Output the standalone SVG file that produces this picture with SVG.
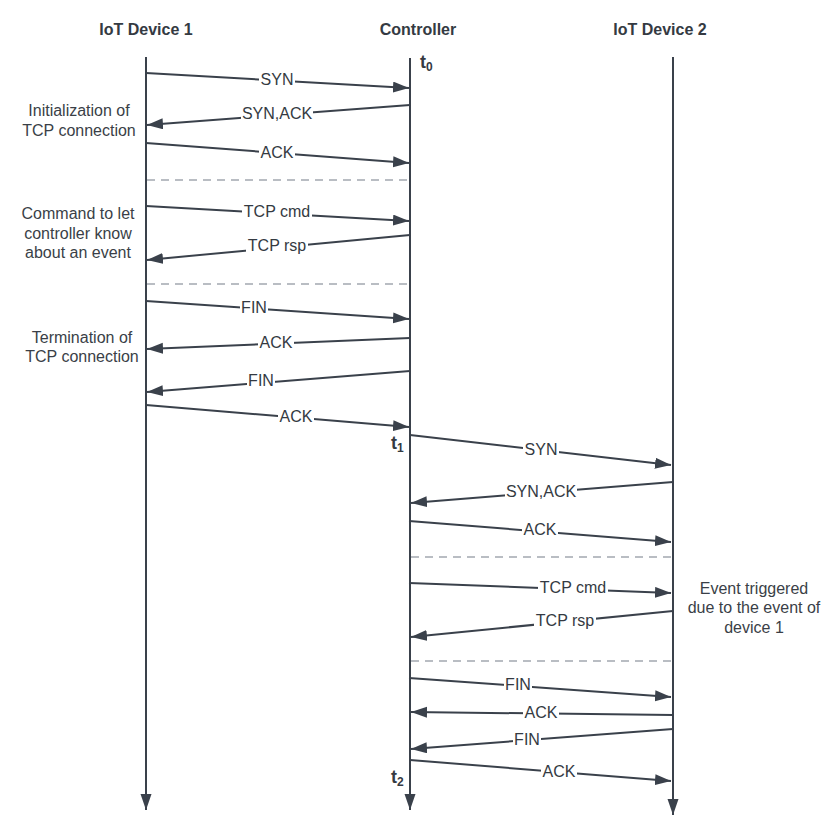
<svg xmlns="http://www.w3.org/2000/svg" width="830" height="818" viewBox="0 0 830 818">
<style>
.hdr{font-family:"Liberation Sans",Arial,sans-serif;font-size:16px;font-weight:bold;fill:#343a42;text-anchor:middle}
.note{font-family:"Liberation Sans",Arial,sans-serif;font-size:16px;fill:#3a3f47;text-anchor:middle}
.lbl{font-family:"Liberation Sans",Arial,sans-serif;font-size:16px;fill:#343a42;text-anchor:middle}
.bg{fill:#fff}
.tl{font-family:"Liberation Sans",Arial,sans-serif;font-size:18px;font-weight:bold;fill:#343a42}
.sub{font-size:12px}
.life{stroke:#3a414b;stroke-width:2;fill:none}
.msg{stroke:#3a414b;stroke-width:2;fill:none}
.dash{stroke:#a3a8b0;stroke-width:1.5;stroke-dasharray:8 6;fill:none}
</style>
<defs>
<marker id="ah" markerUnits="userSpaceOnUse" markerWidth="17" markerHeight="12" refX="16" refY="5.5" orient="auto">
<path d="M0,0 L16,5.5 L0,11 z" fill="#3a414b"/>
</marker>
</defs>
<rect width="830" height="818" fill="#fff"/>

<g id="device1">
<text class="hdr" x="146" y="35">IoT Device 1</text>
<line class="life" x1="146" y1="57" x2="146" y2="810" marker-end="url(#ah)"/>
</g>
<g id="controller">
<text class="hdr" x="418" y="35">Controller</text>
<line class="life" x1="410" y1="58" x2="410" y2="810" marker-end="url(#ah)"/>
</g>
<g id="device2">
<text class="hdr" x="660" y="35">IoT Device 2</text>
<line class="life" x1="673" y1="57" x2="673" y2="815" marker-end="url(#ah)"/>
</g>

<g id="time-labels">
<text class="tl" x="420" y="68">t<tspan class="sub" dy="3">0</tspan></text>
<text class="tl" x="391" y="449">t<tspan class="sub" dy="3">1</tspan></text>
<text class="tl" x="391" y="783">t<tspan class="sub" dy="3">2</tspan></text>
</g>

<g id="notes">
<text class="note" x="79" y="116">Initialization of</text>
<text class="note" x="79" y="136">TCP connection</text>
<text class="note" x="78" y="219">Command to let</text>
<text class="note" x="78" y="239">controller know</text>
<text class="note" x="78" y="258">about an event</text>
<text class="note" x="82" y="343">Termination of</text>
<text class="note" x="82" y="362">TCP connection</text>
<text class="note" x="754" y="594">Event triggered</text>
<text class="note" x="754" y="613">due to the event of</text>
<text class="note" x="754" y="633">device 1</text>
</g>

<g id="connectors">
<line class="dash" x1="147" y1="180" x2="409" y2="180"/>
<line class="dash" x1="147" y1="284" x2="409" y2="284"/>
<line class="dash" x1="411" y1="557" x2="672" y2="557"/>
<line class="dash" x1="411" y1="661" x2="672" y2="661"/>

<line class="msg" x1="146" y1="73" x2="409" y2="88" marker-end="url(#ah)"/>
<line class="msg" x1="410" y1="105" x2="147" y2="125" marker-end="url(#ah)"/>
<line class="msg" x1="146" y1="143" x2="409" y2="163" marker-end="url(#ah)"/>
<line class="msg" x1="146" y1="206" x2="409" y2="221" marker-end="url(#ah)"/>
<line class="msg" x1="410" y1="235" x2="147" y2="260" marker-end="url(#ah)"/>
<line class="msg" x1="146" y1="301" x2="409" y2="319" marker-end="url(#ah)"/>
<line class="msg" x1="410" y1="338" x2="147" y2="349" marker-end="url(#ah)"/>
<line class="msg" x1="410" y1="371" x2="147" y2="392" marker-end="url(#ah)"/>
<line class="msg" x1="146" y1="405" x2="409" y2="427" marker-end="url(#ah)"/>
<line class="msg" x1="410" y1="435" x2="671" y2="465" marker-end="url(#ah)"/>
<line class="msg" x1="673" y1="482" x2="411" y2="503" marker-end="url(#ah)"/>
<line class="msg" x1="409" y1="521" x2="671" y2="542" marker-end="url(#ah)"/>
<line class="msg" x1="409" y1="583" x2="671" y2="593" marker-end="url(#ah)"/>
<line class="msg" x1="673" y1="611" x2="411" y2="637" marker-end="url(#ah)"/>
<line class="msg" x1="409" y1="678" x2="671" y2="697" marker-end="url(#ah)"/>
<line class="msg" x1="673" y1="715" x2="411" y2="712" marker-end="url(#ah)"/>
<line class="msg" x1="673" y1="729" x2="411" y2="749" marker-end="url(#ah)"/>
<line class="msg" x1="410" y1="760" x2="671" y2="781" marker-end="url(#ah)"/>

<rect class="bg" x="259" y="72" width="36" height="15"/><text class="lbl" x="277" y="85">SYN</text>
<rect class="bg" x="241" y="106" width="72" height="15"/><text class="lbl" x="277" y="119">SYN,ACK</text>
<rect class="bg" x="259" y="145" width="36" height="15"/><text class="lbl" x="277" y="158">ACK</text>
<rect class="bg" x="242" y="204" width="70" height="15"/><text class="lbl" x="277" y="217">TCP cmd</text>
<rect class="bg" x="246" y="238" width="62" height="15"/><text class="lbl" x="277" y="251">TCP rsp</text>
<rect class="bg" x="240" y="300" width="28" height="15"/><text class="lbl" x="254" y="313">FIN</text>
<rect class="bg" x="258" y="335" width="36" height="15"/><text class="lbl" x="276" y="348">ACK</text>
<rect class="bg" x="247" y="373" width="28" height="15"/><text class="lbl" x="261" y="386">FIN</text>
<rect class="bg" x="278" y="409" width="36" height="15"/><text class="lbl" x="296" y="422">ACK</text>
<rect class="bg" x="523" y="442" width="36" height="15"/><text class="lbl" x="541" y="455">SYN</text>
<rect class="bg" x="505" y="484" width="72" height="15"/><text class="lbl" x="541" y="497">SYN,ACK</text>
<rect class="bg" x="522" y="522" width="36" height="15"/><text class="lbl" x="540" y="535">ACK</text>
<rect class="bg" x="538" y="580" width="70" height="15"/><text class="lbl" x="573" y="593">TCP cmd</text>
<rect class="bg" x="534" y="613" width="62" height="15"/><text class="lbl" x="565" y="626">TCP rsp</text>
<rect class="bg" x="504" y="677" width="28" height="15"/><text class="lbl" x="518" y="690">FIN</text>
<rect class="bg" x="523" y="705" width="36" height="15"/><text class="lbl" x="541" y="718">ACK</text>
<rect class="bg" x="513" y="732" width="28" height="15"/><text class="lbl" x="527" y="745">FIN</text>
<rect class="bg" x="541" y="764" width="36" height="15"/><text class="lbl" x="559" y="777">ACK</text>
</g>
</svg>
